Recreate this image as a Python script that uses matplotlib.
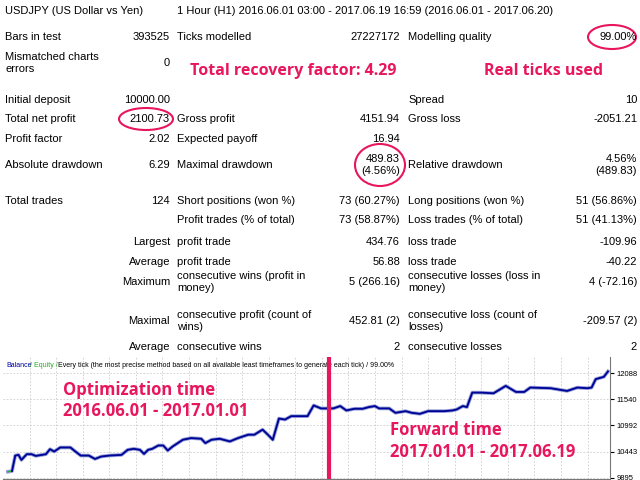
import matplotlib
matplotlib.use("Agg")
import matplotlib.pyplot as plt
from matplotlib.patches import Ellipse

header_left = "USDJPY (US Dollar vs Yen)"
header_right = "1 Hour (H1) 2016.06.01 03:00 - 2017.06.19 16:59 (2016.06.01 - 2017.06.20)"

# trade-axis positions and balance values
trade_x = [12,22,30,38,45,58,70,80,95,105,115,125,140,165,175,190,210,225,240,260,290,305,320,335,345,355,365,380,392,403,415,440,460,485,495,510,530,555,575,600,615,635,648,660,675,690,705,718,745,760,778,808,825,840,860,880,895,910,920,945,960,985,1000,1020,1040,1080,1100,1110,1125,1135,1148,1170,1200,1230,1255,1275,1290,1340,1380,1405,1430,1440,1450,1470,1480]
balance = [10022,10036,10361,10375,10269,10389,10389,10354,10375,10389,10495,10445,10530,10530,10460,10361,10361,10290,10340,10361,10375,10481,10502,10481,10396,10481,10502,10572,10572,10467,10551,10692,10727,10713,10622,10692,10713,10657,10727,10798,10798,10904,10798,10692,11136,11115,11186,11186,11186,11411,11348,11348,11397,11306,11341,11341,11376,11397,11348,11348,11256,11291,11256,11235,11291,11291,11306,11327,11397,11376,11679,11679,11665,11820,11693,11693,11785,11771,11714,11785,11771,11785,11961,12010,12123]
yticks = [9895, 10443, 10992, 11540, 12088]
split_x = 798

RED = "#E8175D"
FONT = "Liberation Sans"
fig = plt.figure(figsize=(6.4, 4.8), dpi=100)
ov = fig.add_axes([0, 0, 1, 1])
ov.set_xlim(0, 640); ov.set_ylim(480, 0); ov.axis("off")

def t(x, y, s, ha="left", **kw):
    ov.text(x, y, s, ha=ha, va="center", fontsize=8, family=FONT, color="black", **kw)

t(5, 11, header_left); t(177, 11, header_right)
rows = [
    (37, "Bars in test", "393525", "Ticks modelled", "27227172", "Modelling quality", "99.00%"),
    (100, "Initial deposit", "10000.00", "", "", "Spread", "10"),
    (119, "Total net profit", "2100.73", "Gross profit", "4151.94", "Gross loss", "-2051.21"),
    (139, "Profit factor", "2.02", "Expected payoff", "16.94", "", ""),
    (165, "Absolute drawdown", "6.29", "Maximal drawdown", "", "Relative drawdown", ""),
    (201, "Total trades", "124", "Short positions (won %)", "73 (60.27%)", "Long positions (won %)", "51 (56.86%)"),
    (220, "", "", "Profit trades (% of total)", "73 (58.87%)", "Loss trades (% of total)", "51 (41.13%)"),
    (242, "", "Largest", "profit trade", "434.76", "loss trade", "-109.96"),
    (262, "", "Average", "profit trade", "56.88", "loss trade", "-40.22"),
    (282, "", "Maximum", "consecutive wins (profit in\nmoney)", "5 (266.16)", "consecutive losses (loss in\nmoney)", "4 (-72.16)"),
    (321, "", "Maximal", "consecutive profit (count of\nwins)", "452.81 (2)", "consecutive loss (count of\nlosses)", "-209.57 (2)"),
    (347, "", "Average", "consecutive wins", "2", "consecutive losses", "2"),
]
for y, a, b, c, d, e, f in rows:
    t(5, y, a); t(170, y, b, ha="right"); t(177, y, c, linespacing=1.3)
    t(400, y, d, ha="right"); t(408, y, e, linespacing=1.3); t(637, y, f, ha="right")
t(5, 63, "Mismatched charts\nerrors", linespacing=1.3); t(170, 63, "0", ha="right")
t(400, 165, "489.83\n(4.56%)", ha="right", linespacing=1.3)
t(637, 165, "4.56%\n(489.83)", ha="right", linespacing=1.3)

def red(x, y, s):
    ov.text(x, y, s, ha="left", va="center", fontsize=11.5, family="Open Sans", weight="bold", color=RED)
red(190, 71, "Total recovery factor: 4.29")
red(484, 71, "Real ticks used")
for cx, cy, w, h in [(612, 37, 48, 24), (146, 119, 54, 22), (380, 165, 50, 42)]:
    ov.add_patch(Ellipse((cx, cy), w, h, fill=False, ec=RED, lw=1.5))

ax = fig.add_axes([3/640, 1/480, 607/640, 122/480])
ax.set_xlim(0, 1485); ax.set_ylim(9870, 12425)
ax.plot(trade_x, balance, color="#9999DD", lw=2.6, zorder=2)
ax.plot(trade_x, balance, color="#22BB22", lw=1.0, zorder=2)
ax.plot(trade_x[1:], balance[1:], color="#0000A0", lw=1.3, zorder=3)
ax.axvline(split_x, color=RED, lw=3, zorder=4)
ax.yaxis.tick_right()
ax.set_yticks(yticks); ax.set_yticklabels([str(v) for v in yticks], fontsize=5.5, family=FONT)
ax.tick_params(axis="y", length=3, pad=2)
ax.set_xticks(range(65, 1485, 65)); ax.tick_params(axis="x", length=0, labelbottom=False)
ax.grid(True, color="#CCCCCC", ls=(0, (2, 2)), lw=0.6)
for s in ["top", "left"]:
    ax.spines[s].set_visible(False)
for s in ["right", "bottom"]:
    ax.spines[s].set_color("#777777")
ax.text(0.005, 0.93, "Balance", transform=ax.transAxes, fontsize=5, color="#0000A0", family=FONT, va="center")
ax.text(0.045, 0.93, "/ Equity /", transform=ax.transAxes, fontsize=5, color="#22AA22", family=FONT, va="center")
ax.text(0.09, 0.93, "Every tick (the most precise method based on all available least timeframes to generate each tick) / 99.00%",
        transform=ax.transAxes, fontsize=5, color="black", family=FONT, va="center")

def rc(x, y, s):
    ov.text(x, y, s, ha="left", va="center", fontsize=12, family="Open Sans", weight="bold", color=RED, zorder=10)
ov.set_zorder(5); ov.patch.set_visible(False)
rc(63, 390, "Optimization time"); rc(63, 411, "2016.06.01 - 2017.01.01")
rc(390, 430, "Forward time"); rc(390, 452, "2017.01.01 - 2017.06.19")

fig.savefig("out.png", dpi=100, facecolor="white")
